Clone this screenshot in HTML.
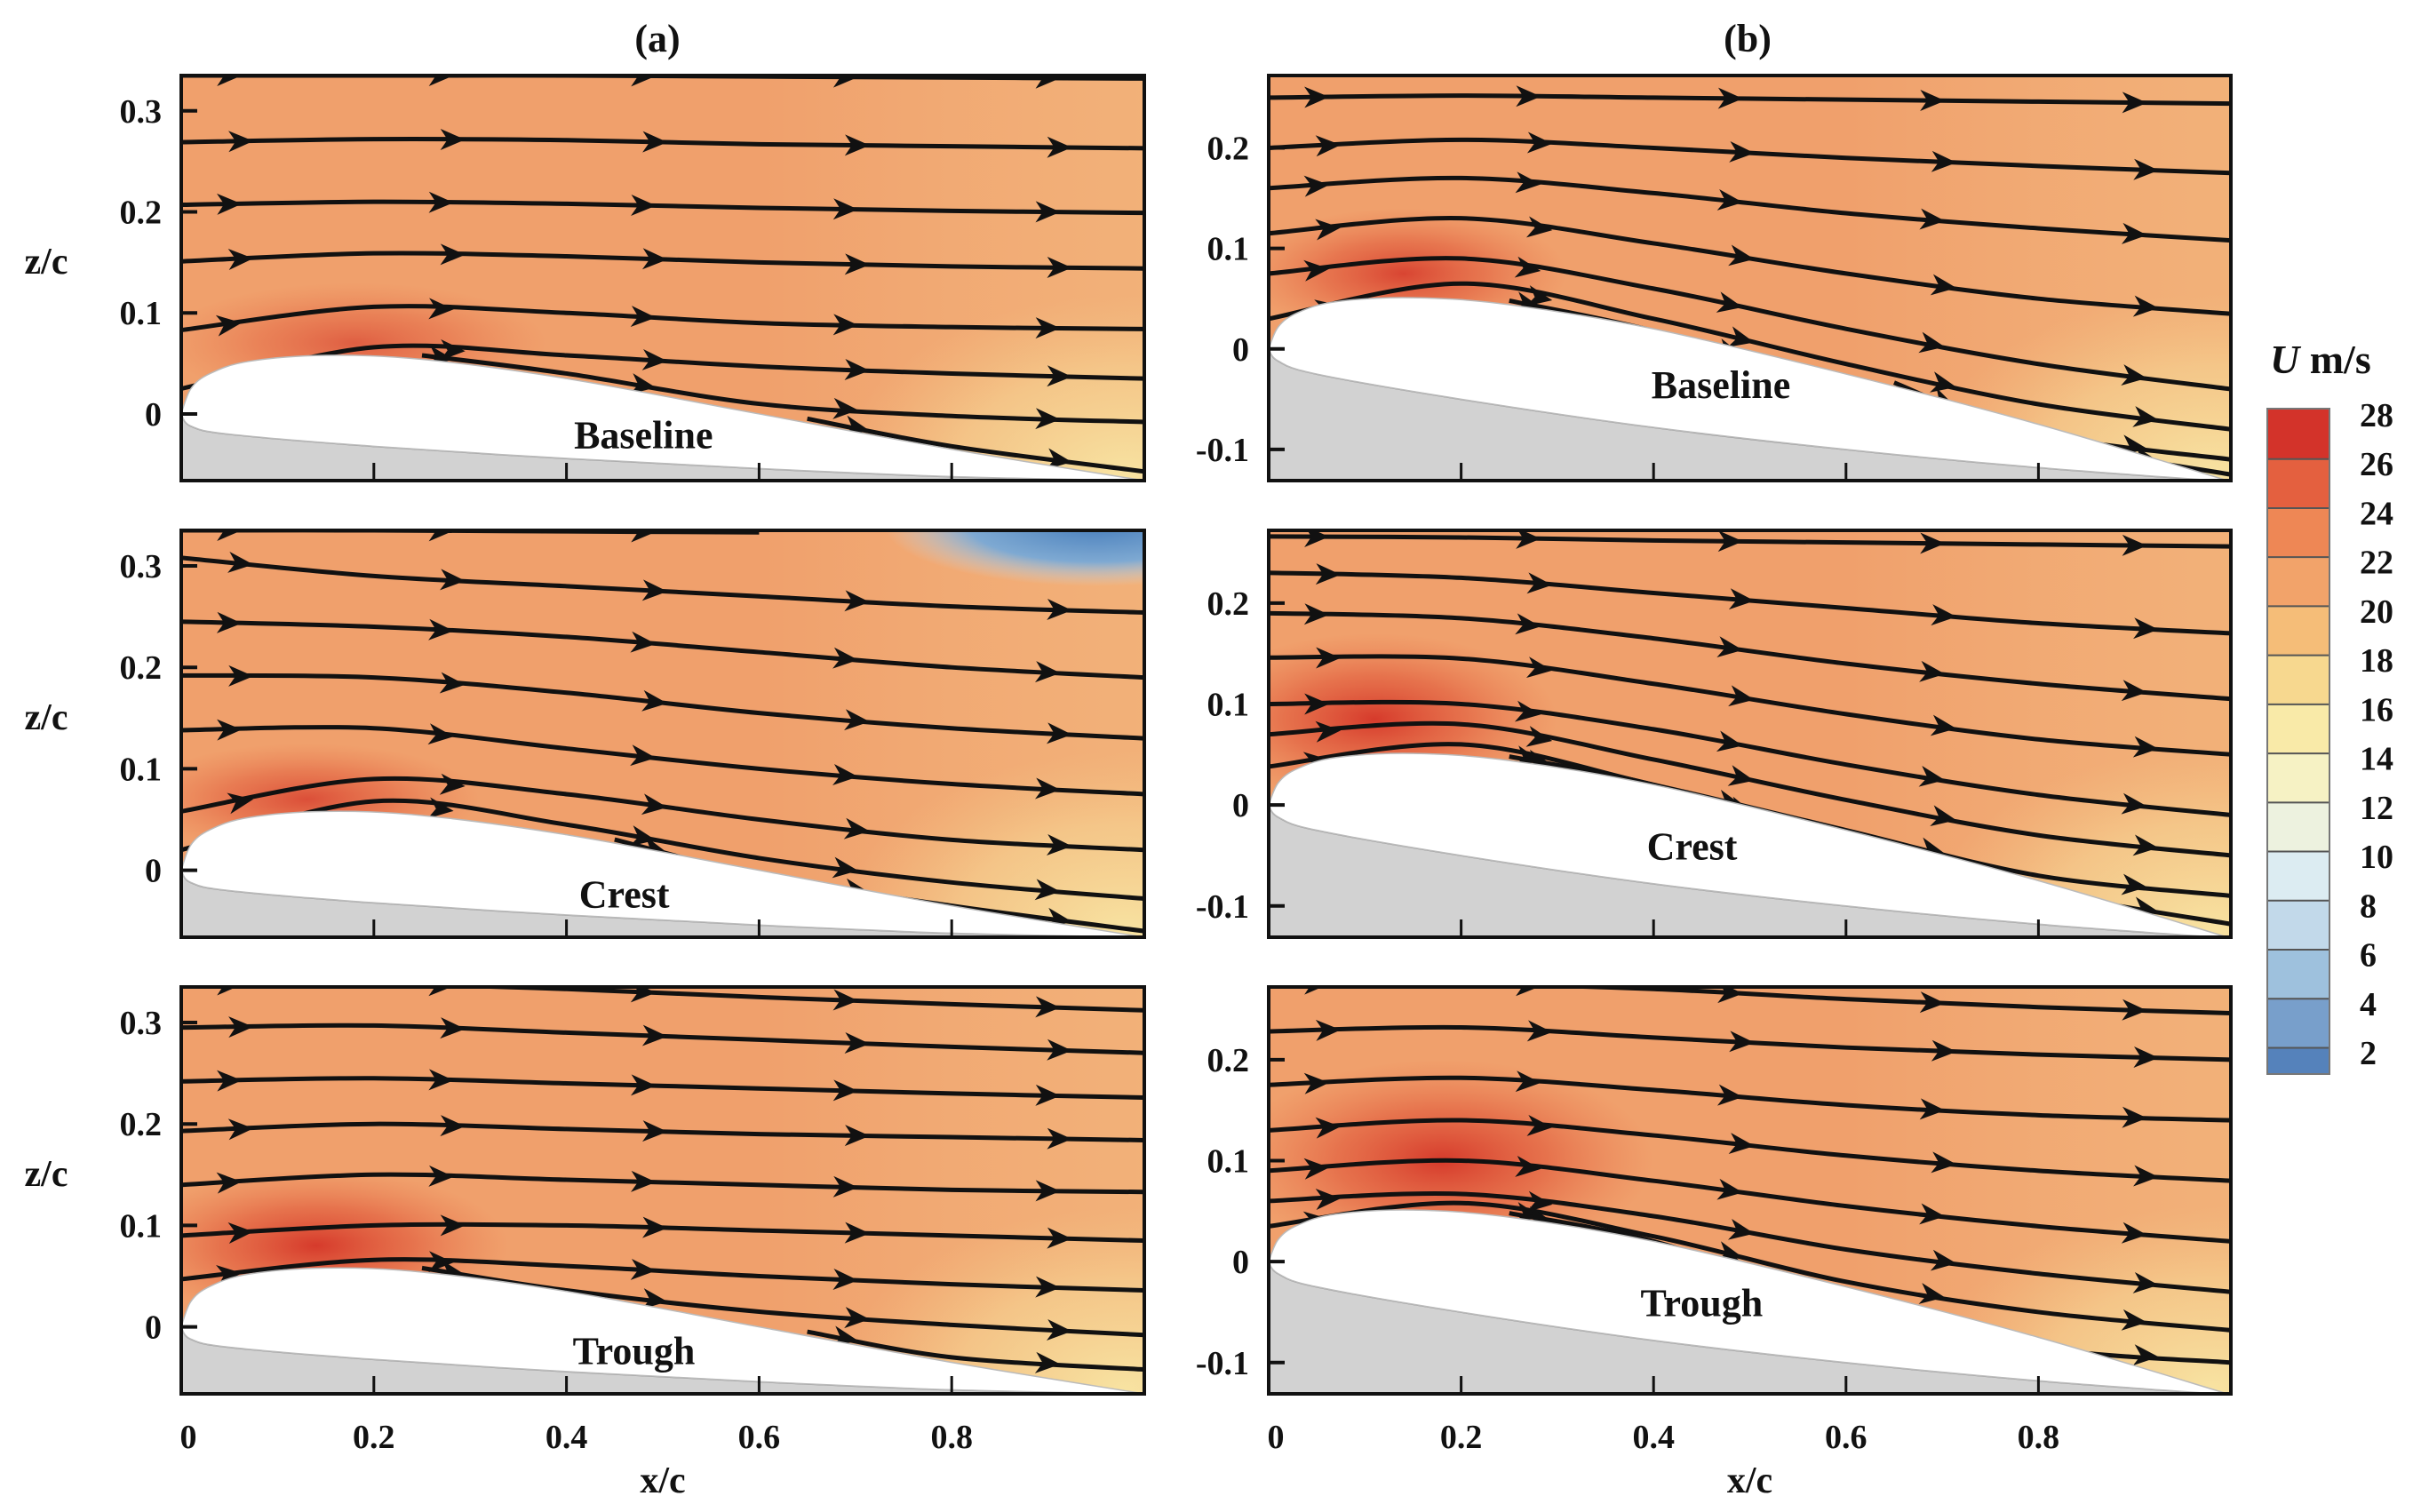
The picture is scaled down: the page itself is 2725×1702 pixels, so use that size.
<!DOCTYPE html>
<html><head><meta charset="utf-8"><style>
html,body{margin:0;padding:0;background:#fff;}
svg{display:block;font-family:"Liberation Serif",serif;}
</style></head><body>
<svg id="fig" width="2725" height="1702" viewBox="0 0 2725 1702" xmlns="http://www.w3.org/2000/svg">
<defs>
<linearGradient id="teGlow" x1="0" y1="0" x2="1" y2="0">
<stop offset="0" stop-color="#f8e4a0" stop-opacity="0"/><stop offset="0.6" stop-color="#f8e0a0" stop-opacity="0"/><stop offset="1" stop-color="#f6d090" stop-opacity="0.35"/></linearGradient>
<radialGradient id="teSpot"><stop offset="0" stop-color="#f8e6a4" stop-opacity="0.95"/><stop offset="0.6" stop-color="#f6d896" stop-opacity="0.55"/><stop offset="1" stop-color="#f4c888" stop-opacity="0"/></radialGradient>
<radialGradient id="hot"><stop offset="0" stop-color="#d32f24" stop-opacity="0.9"/><stop offset="0.5" stop-color="#de4d33" stop-opacity="0.55"/><stop offset="1" stop-color="#e86a45" stop-opacity="0"/></radialGradient>
<radialGradient id="blue"><stop offset="0" stop-color="#4a80bd"/><stop offset="0.6" stop-color="#7ea9d2"/><stop offset="1" stop-color="#c8dcec" stop-opacity="0"/></radialGradient>
</defs>
</svg>
<script>
// ---- data ----
const xTicks=[0,0.2,0.4,0.6,0.8];
const xTickLabels=["0","0.2","0.4","0.6","0.8"];
const yTicksA=[0,0.1,0.2,0.3];
const yTicksB=[-0.1,0,0.1,0.2];
const sampleX=[0,0.2,0.4,0.6,0.8,1.0];
const arrowX=[0.05,0.27,0.48,0.69,0.9];
const upperA=[[0,0],[0.01,0.025],[0.03,0.04],[0.07,0.052],[0.15,0.058],[0.25,0.054],[0.4,0.035],[0.6,0.0],[0.8,-0.035],[1,-0.066]];
const lowerA=[[0,0],[0.01,-0.012],[0.05,-0.02],[0.2,-0.032],[0.4,-0.044],[0.6,-0.054],[0.8,-0.062],[1,-0.066]];
const upperB=[[0,0],[0.01,0.022],[0.03,0.036],[0.07,0.047],[0.15,0.051],[0.25,0.044],[0.4,0.02],[0.6,-0.025],[0.8,-0.075],[1,-0.132]];
const lowerB=[[0,0],[0.01,-0.012],[0.05,-0.025],[0.2,-0.05],[0.4,-0.078],[0.6,-0.1],[0.8,-0.118],[1,-0.132]];
const linesA1=[[0.335,0.335,0.335,0.334,0.333,0.332],[0.269,0.272,0.271,0.267,0.265,0.263],[0.207,0.21,0.208,0.204,0.201,0.199],[0.151,0.159,0.156,0.15,0.146,0.144],[0.083,0.106,0.1,0.09,0.086,0.084],[0.025,0.066,0.058,0.047,0.04,0.035],[null,null,0.04,0.01,-0.002,-0.008],[null,null,null,null,-0.032,-0.057]];
const linesA2=[[0.335,0.335,0.334,0.333,null,null],[0.308,0.29,0.28,0.27,0.26,0.254],[0.245,0.24,0.23,0.215,0.2,0.19],[0.192,0.19,0.175,0.155,0.14,0.13],[0.138,0.14,0.12,0.1,0.085,0.075],[0.058,0.09,0.075,0.05,0.03,0.02],[0.02,0.068,0.045,0.012,-0.012,-0.028],[null,null,null,-0.005,-0.035,-0.06]];
const linesA3=[[0.337,0.338,0.333,0.325,0.318,0.312],[0.295,0.297,0.29,0.283,0.276,0.27],[0.242,0.245,0.24,0.235,0.23,0.226],[0.193,0.2,0.195,0.19,0.187,0.184],[0.14,0.15,0.145,0.14,0.135,0.133],[0.09,0.1,0.1,0.095,0.09,0.085],[0.047,0.066,0.06,0.05,0.042,0.036],[null,null,0.036,0.015,0.002,-0.008],[null,null,null,null,-0.03,-0.042]];
const linesB1=[[0.25,0.252,0.25,0.248,0.246,0.244],[0.2,0.208,0.2,0.19,0.182,0.175],[0.16,0.17,0.155,0.135,0.12,0.108],[0.115,0.13,0.105,0.075,0.05,0.035],[0.075,0.09,0.06,0.02,-0.015,-0.04],[0.03,0.065,0.03,-0.015,-0.055,-0.08],[null,null,0.018,-0.035,-0.085,-0.11],[null,null,null,null,-0.09,-0.125]];
const linesB2=[[0.266,0.265,0.262,0.26,0.258,0.256],[0.23,0.225,0.21,0.195,0.18,0.17],[0.19,0.185,0.165,0.14,0.12,0.105],[0.146,0.145,0.12,0.09,0.065,0.05],[0.1,0.1,0.075,0.04,0.01,-0.01],[0.07,0.08,0.045,0.005,-0.03,-0.05],[0.038,0.06,0.02,-0.025,-0.07,-0.09],[null,null,0.02,-0.035,-0.085,-0.118]];
const linesB3=[[0.275,0.275,0.27,0.26,0.252,0.246],[0.228,0.232,0.222,0.212,0.205,0.2],[0.175,0.182,0.17,0.155,0.145,0.14],[0.13,0.14,0.125,0.105,0.09,0.08],[0.09,0.1,0.08,0.055,0.035,0.02],[0.06,0.067,0.045,0.012,-0.012,-0.03],[0.035,0.058,0.025,-0.02,-0.05,-0.068],[null,null,0.02,-0.04,-0.085,-0.1]];
const cbValues=[28,26,24,22,20,18,16,14,12,10,8,6,4,2];
const cbColors=["#d3332a","#e4603f","#ee8755","#f2a36a","#f5bd78","#f7d88f","#f9eaa8","#f6f2c4","#edf2df","#dcecf2","#c2d9ea","#9ec1dd","#789fcb","#5582bb"];

// ---- layout ----
const panels=[
 {id:"a-baseline",L:204,R:1288,T:85,B:541,zT:0.335,zB:-0.066,col:"A",lines:linesA1,label:"Baseline",lx:0.48,lz:-0.025,hot:[0.18,0.07,0.2,0.06,0.65],blue:null},
 {id:"a-crest",L:204,R:1288,T:597,B:1055,zT:0.335,zB:-0.066,col:"A",lines:linesA2,label:"Crest",lx:0.46,lz:-0.028,hot:[0.13,0.07,0.18,0.055,0.8],blue:[0.95,0.34,0.22,0.06]},
 {id:"a-trough",L:204,R:1288,T:1111,B:1569,zT:0.335,zB:-0.066,col:"A",lines:linesA3,label:"Trough",lx:0.47,lz:-0.028,hot:[0.14,0.08,0.2,0.075,1],blue:null},
 {id:"b-baseline",L:1428,R:2511,T:85,B:541,zT:0.272,zB:-0.131,col:"B",lines:linesB1,label:"Baseline",lx:0.47,lz:-0.04,hot:[0.14,0.075,0.17,0.065,0.9],blue:null},
 {id:"b-crest",L:1428,R:2511,T:597,B:1055,zT:0.272,zB:-0.131,col:"B",lines:linesB2,label:"Crest",lx:0.44,lz:-0.045,hot:[0.11,0.085,0.19,0.085,1],blue:null},
 {id:"b-trough",L:1428,R:2511,T:1111,B:1569,zT:0.272,zB:-0.131,col:"B",lines:linesB3,label:"Trough",lx:0.45,lz:-0.045,hot:[0.18,0.1,0.22,0.1,1],blue:null}
];
const svg=document.getElementById('fig');
const NS="http://www.w3.org/2000/svg";
function mk(tag,attrs,parent){const e=document.createElementNS(NS,tag);for(const k in attrs)e.setAttribute(k,attrs[k]);(parent||svg).appendChild(e);return e;}
function sx(p,x){return p.L+x*(p.R-p.L);}
function sy(p,z){return p.T+(p.zT-z)/(p.zT-p.zB)*(p.B-p.T);}
function smooth(pts){let d="M"+pts[0][0]+","+pts[0][1];for(let i=0;i<pts.length-1;i++){const p0=pts[Math.max(0,i-1)],p1=pts[i],p2=pts[i+1],p3=pts[Math.min(pts.length-1,i+2)];const c1=[p1[0]+(p2[0]-p0[0])/6,p1[1]+(p2[1]-p0[1])/6],c2=[p2[0]-(p3[0]-p1[0])/6,p2[1]-(p3[1]-p1[1])/6];d+=" C"+c1[0]+","+c1[1]+" "+c2[0]+","+c2[1]+" "+p2[0]+","+p2[1];}return d;}
function interp(xs,zs,x){for(let i=0;i<xs.length-1;i++){if(x>=xs[i]&&x<=xs[i+1]){const t=(x-xs[i])/(xs[i+1]-xs[i]);return zs[i]+t*(zs[i+1]-zs[i]);}}return null;}
function surf(arr,x){return interp(arr.map(q=>q[0]),arr.map(q=>q[1]),x);}

panels.forEach((p,pi)=>{
 const up=p.col==="A"?upperA:upperB, lo=p.col==="A"?lowerA:lowerB;
 const g=mk('g',{});
 
 
 const cp=mk('clipPath',{id:'clip'+pi},svg.querySelector('defs'));
 mk('rect',{x:p.L,y:p.T,width:p.R-p.L,height:p.B-p.T},cp);
 const inner=mk('g',{'clip-path':'url(#clip'+pi+')'},g);
 const bg=mk('rect',{x:p.L,y:p.T,width:p.R-p.L,height:p.B-p.T,fill:'#f0a06c'},inner);
 
 
 mk('rect',{x:p.L,y:p.T,width:p.R-p.L,height:p.B-p.T,fill:'url(#teGlow)'},inner);
 const ts=mk('ellipse',{cx:sx(p,0.98),cy:sy(p,surf(up,0.98)),rx:0.3*(p.R-p.L),ry:0.45*(p.B-p.T),fill:'url(#teSpot)'},inner);
 
 
 const h=p.hot;
 const hs=mk('ellipse',{cx:sx(p,h[0]),cy:sy(p,h[1]),rx:h[2]*(p.R-p.L),ry:h[3]/(p.zT-p.zB)*(p.B-p.T),fill:'url(#hot)',opacity:h[4]},inner);
 
 
 if(p.blue){const b=p.blue;const bl=mk('ellipse',{cx:sx(p,b[0]),cy:sy(p,b[1]),rx:b[2]*(p.R-p.L),ry:b[3]/(p.zT-p.zB)*(p.B-p.T),fill:'url(#blue)'},inner);
  
  }
 // streamlines
 p.lines.forEach((zs,li)=>{
  const xs=[],zz=[];zs.forEach((z,i)=>{if(z!==null){xs.push(sampleX[i]);zz.push(z);}});
  if(zs[0]===null){const x0=Math.max(0.02,xs[0]-0.15);xs.unshift(x0);zz.unshift(surf(up,x0)+0.004);}
  const pts=xs.map((x,i)=>[sx(p,x),sy(p,zz[i])]);
  const path=mk('path',{d:smooth(pts),fill:'none',stroke:'#111',"stroke-width":5},inner);
  
  
  arrowX.forEach(ax=>{
   const a=ax+(li%2)*0.012;
   const z0=interp(xs,zz,a),z1=interp(xs,zz,a+0.01);
   if(z0===null||z1===null)return;
   const X=sx(p,a),Y=sy(p,z0),ang=Math.atan2(sy(p,z1)-Y,sx(p,a+0.01)-X)*180/Math.PI;
   const ar=mk('path',{d:"M14,0 L-14,-12 L-6,0 L-14,12 Z",fill:'#111',transform:`translate(${X},${Y}) rotate(${ang})`},inner);
   
   
  });
 });
 // airfoil
 const lowPts=lo.map(q=>[sx(p,q[0]),sy(p,q[1])]);
 const gd=smooth(lowPts)+` L${p.R},${p.B+5} L${p.L},${p.B+5} Z`;
 const gr=mk('path',{d:gd,fill:'#d2d2d2',stroke:'#8a8a8a','stroke-width':2},inner);
 
 
 const upPts=up.map(q=>[sx(p,q[0]),sy(p,q[1])]);
 const revLow=lowPts.slice().reverse();
 const af=mk('path',{d:smooth(upPts)+" "+smooth(revLow).replace('M','L')+" Z",fill:'#fff',stroke:'#bbb','stroke-width':1.5},inner);
 
 
 const lab=mk('text',{x:sx(p,p.lx),y:sy(p,p.lz),'font-size':44,'font-weight':'bold','text-anchor':'middle','dominant-baseline':'middle',fill:'#111'},g);
 lab.textContent=p.label;
 
 
 // ticks
 xTicks.forEach((t,i)=>{if(i===0)return;mk('line',{x1:sx(p,t),x2:sx(p,t),y1:p.B,y2:p.B-20,stroke:'#111','stroke-width':3},g);});
 const yt=p.col==="A"?yTicksA:yTicksB;
 yt.forEach(t=>{mk('line',{x1:p.L,x2:p.L+18,y1:sy(p,t),y2:sy(p,t),stroke:'#111','stroke-width':4},g);
  const tl=mk('text',{x:p.L-22,y:sy(p,t)+13,'font-size':38,'font-weight':'bold','text-anchor':'end',fill:'#111'},g);
  tl.textContent=String(t);
  
  });
 if(pi===2||pi===5){xTicks.forEach((t,i)=>{const tl=mk('text',{x:sx(p,t)+(i===0?8:0),y:1630,'font-size':38,'font-weight':'bold','text-anchor':'middle',fill:'#111'},g);
  tl.textContent=xTickLabels[i];
  
  });
  const xl=mk('text',{x:sx(p,0.5),y:1680,'font-size':42,'font-weight':'bold','text-anchor':'middle',fill:'#111'},g);
  xl.textContent="x/c";
  
  }
 if(p.col==="A"){const zl=mk('text',{x:52,y:(p.T+p.B)/2-5,'font-size':42,'font-weight':'bold','text-anchor':'middle',fill:'#111'},g);
  zl.textContent="z/c";
  
  }
 mk('rect',{x:p.L,y:p.T,width:p.R-p.L,height:p.B-p.T,fill:'none',stroke:'#111','stroke-width':4},g);
});
// titles
[["(a)",740],["(b)",1967]].forEach(t=>{const e=mk('text',{x:t[1],y:58,'font-size':44,'font-weight':'bold','text-anchor':'middle',fill:'#111'});
 e.textContent=t[0];
 
 });
// colorbar
const cbL=2552,cbW=70,cbT=460,cbB=1209;
function cy(v){return 467+(28-v)*(1185-467)/26;}
const cbg=mk('g',{});


cbValues.forEach((v,i)=>{
 const yTop=i===0?cbT:cy(cbValues[i-1])+(cy(v)-cy(cbValues[i-1]))*0.9;
 const yBot=i===cbValues.length-1?cbB:cy(v)+(cy(cbValues[i+1])-cy(v))*0.9;
 const r=mk('rect',{x:cbL,y:yTop,width:cbW,height:yBot-yTop+0.5,fill:cbColors[i]},cbg);
 
 
 if(i>0)mk('line',{x1:cbL,x2:cbL+cbW,y1:yTop,y2:yTop,stroke:'#555','stroke-width':2},cbg);
 const t=mk('text',{x:2656,y:cy(v)+13,'font-size':38,'font-weight':'bold',fill:'#111'},cbg);
 t.textContent=String(v);
 
 
});
mk('rect',{x:cbL,y:cbT,width:cbW,height:cbB-cbT,fill:'none',stroke:'#777','stroke-width':2},cbg);
const ct=mk('text',{x:2555,y:420,'font-size':46,'font-weight':'bold',fill:'#111'},cbg);
ct.innerHTML='<tspan font-style="italic">U</tspan> m/s';


</script>
</body></html>
